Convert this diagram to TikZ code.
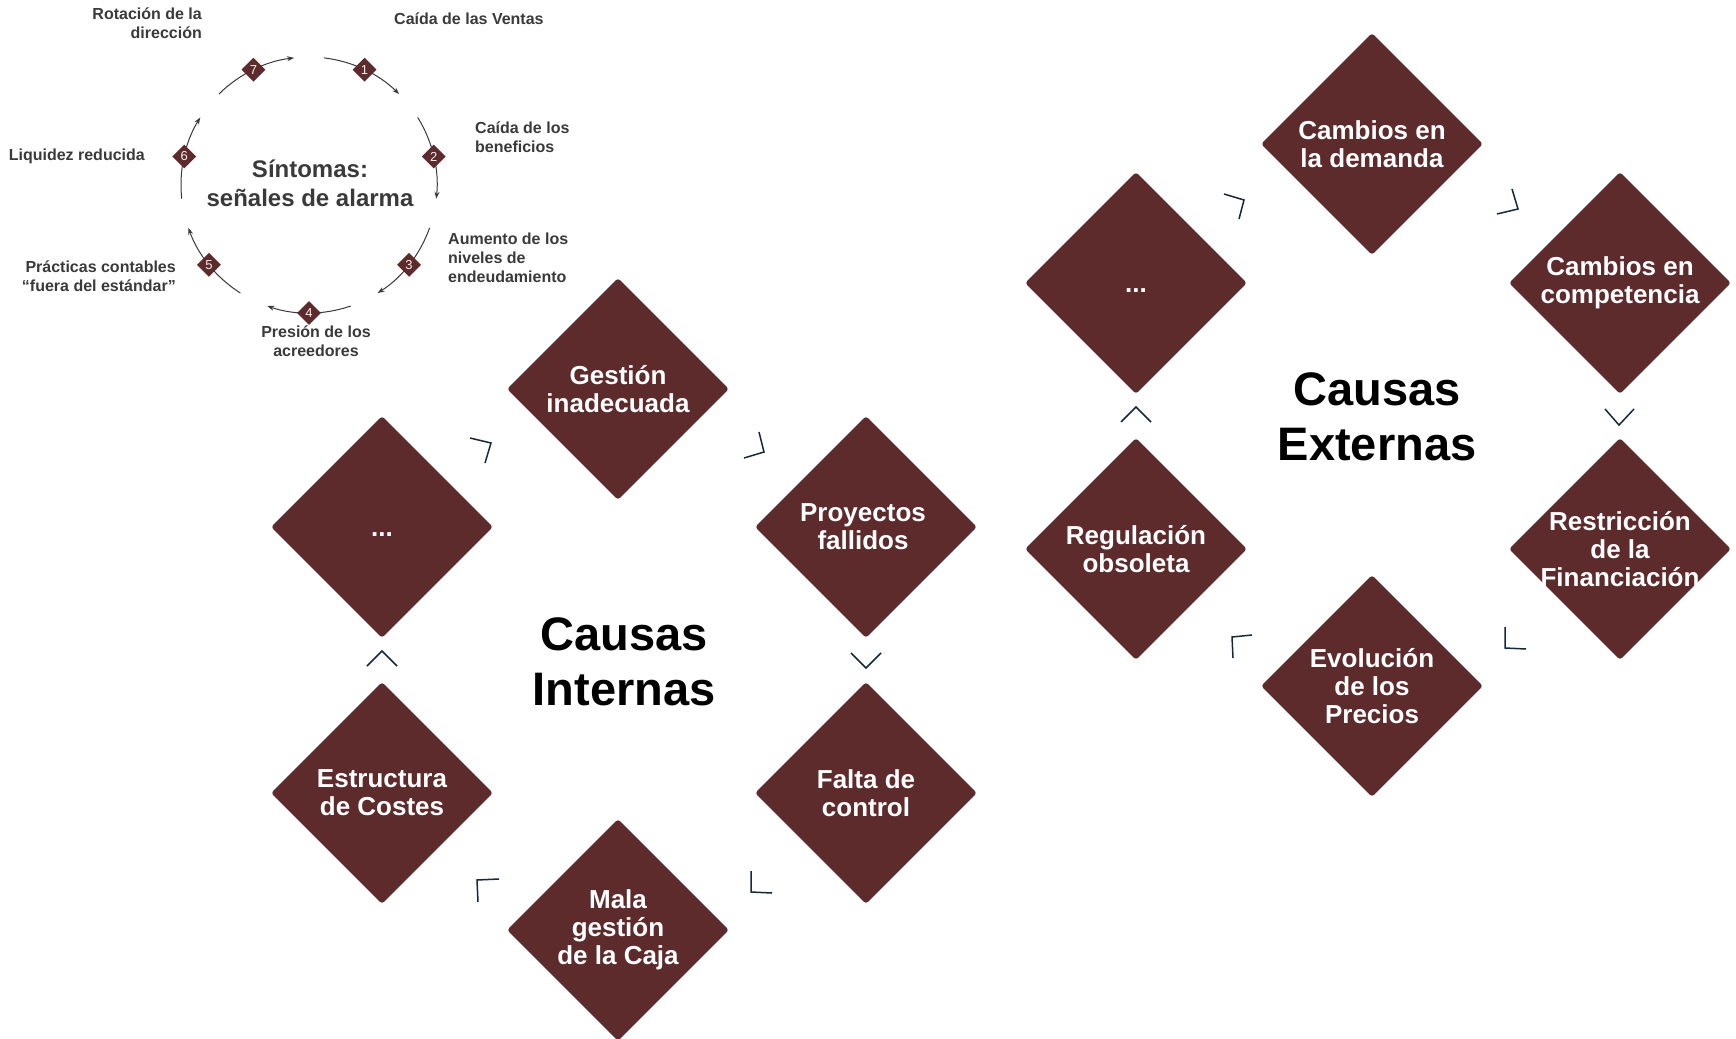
\documentclass[tikz,border=0pt]{standalone}
\usepackage{fontspec}
\setmainfont{Liberation Sans}
\usetikzlibrary{shapes.geometric,arrows.meta}
\definecolor{granate}{RGB}{94,43,45}
\definecolor{tinta}{RGB}{23,40,58}
\definecolor{gristxt}{RGB}{58,58,58}
\begin{document}
\begin{tikzpicture}[x=1pt,y=-1pt,
  causa/.style={shape=diamond, aspect=1, fill=granate, minimum width=222pt,
    minimum height=222pt, inner sep=0pt, rounded corners=3pt},
  lbl/.style={text=white, font=\fontsize{26}{28}\selectfont\bfseries,
    align=center, inner sep=0pt},
  titulo/.style={font=\fontsize{47}{55}\selectfont\bfseries, align=center, inner sep=0pt},
  chev/.style={draw=tinta, line width=1.5pt},
  sint/.style={font=\fontsize{16}{19}\selectfont\bfseries, text=gristxt, inner sep=0pt},
  ciclo/.style={draw=gristxt, line width=1pt, -{Stealth[length=7pt,width=5pt]}},
  marca/.style={shape=diamond, aspect=1, fill=granate, minimum width=24pt,
    minimum height=24pt, inner sep=0pt, text=white!92!granate,
    font=\fontsize{13}{13}\selectfont}
]
\path[use as bounding box, fill=white] (0,0) rectangle (1736,1038);

% ---- Síntomas: ciclo de siete señales ----
\begin{scope}[shift={(309,185)}, y=1pt]
  \foreach \k in {1,...,7}{
    \pgfmathsetmacro\aini{90-51.4286*(\k-1)-6.7}
    \pgfmathsetmacro\afin{90-51.4286*\k+6.7}
    \pgfmathsetmacro\amed{90-51.4286*(\k-0.5)}
    \draw[ciclo] (\aini:128) arc[start angle=\aini, end angle=\afin, radius=128];
    \node[marca] (m\k) at (\amed:128) {\k};
  }
\end{scope}
\node[font=\fontsize{24}{29}\selectfont\bfseries, text=gristxt, align=center, inner sep=0pt]
  (sintomas) at (310,183) {Síntomas:\\señales de alarma};

\node[sint, anchor=west] (s1) at (394,19) {Caída de las Ventas};
\node[sint, anchor=west, align=left] (s2) at (475,137) {Caída de los\\beneficios};
\node[sint, anchor=west, align=left] (s3) at (448,258) {Aumento de los\\niveles de\\endeudamiento};
\node[sint, align=center] (s4) at (316,341) {Presión de los\\acreedores};
\node[sint, anchor=east, align=right] (s5) at (176,276) {Prácticas contables\\“fuera del estándar”};
\node[sint, anchor=east] (s6) at (145,156) {Liquidez reducida};
\node[sint, anchor=east, align=right] (s7) at (202,23) {Rotación de la\\dirección};

% ---- Causas internas ----
\node[causa] (gi) at (618,389) {};
\node[lbl] (gi-t) at (gi) {Gestión\\inadecuada};
\node[causa] (pf) at (866,527) {};
\node[lbl] (pf-t) at ([xshift=-3pt]pf) {Proyectos\\fallidos};
\node[causa] (fc) at (866,793) {};
\node[lbl] (fc-t) at (fc) {Falta de\\control};
\node[causa] (mg) at (618,930) {};
\node[lbl] (mg-t) at (mg) {Mala\\gestión\\de la Caja};
\node[causa] (ec) at (382,793) {};
\node[lbl] (ec-t) at (ec) {Estructura\\de Costes};
\node[causa] (oi) at (382,527) {};
\node[lbl] (oi-t) at (382,535) {...};
\node[titulo] (ci) at (624,662) {Causas\\Internas};

\draw[chev] (470,438) -- (491,443) -- (485,463);
\draw[chev] (759,432) -- (764,452) -- (744,458);
\draw[chev] (851,653) -- (866,668) -- (881,653);
\draw[chev] (751,871) -- (751,892) -- (772,893);
\draw[chev] (499,879) -- (477,880) -- (478,902);
\draw[chev] (367,666) -- (382,651) -- (397,666);

% ---- Causas externas ----
\node[causa] (cd) at (1372,144) {};
\node[lbl] (cd-t) at (cd) {Cambios en\\la demanda};
\node[causa] (cc) at (1620,283) {};
\node[lbl] (cc-t) at (cc) {Cambios en\\competencia};
\node[causa] (rf) at (1620,549) {};
\node[lbl] (rf-t) at (rf) {Restricción\\de la\\Financiación};
\node[causa] (ep) at (1372,686) {};
\node[lbl] (ep-t) at (ep) {Evolución\\de los\\Precios};
\node[causa] (ro) at (1136,549) {};
\node[lbl] (ro-t) at (ro) {Regulación\\obsoleta};
\node[causa] (oe) at (1136,283) {};
\node[lbl] (oe-t) at (1136,291) {...};
\node[titulo] (ce) at (1377,417) {Causas\\Externas};

\draw[chev] (1224,194) -- (1244,200) -- (1239,219);
\draw[chev] (1512,189) -- (1518,209) -- (1497,214);
\draw[chev] (1605,409) -- (1619,425) -- (1634,409);
\draw[chev] (1505,627) -- (1505,648) -- (1526,649);
\draw[chev] (1252,635) -- (1232,637) -- (1233,658);
\draw[chev] (1121,422) -- (1136,407) -- (1151,422);
\end{tikzpicture}
\end{document}
